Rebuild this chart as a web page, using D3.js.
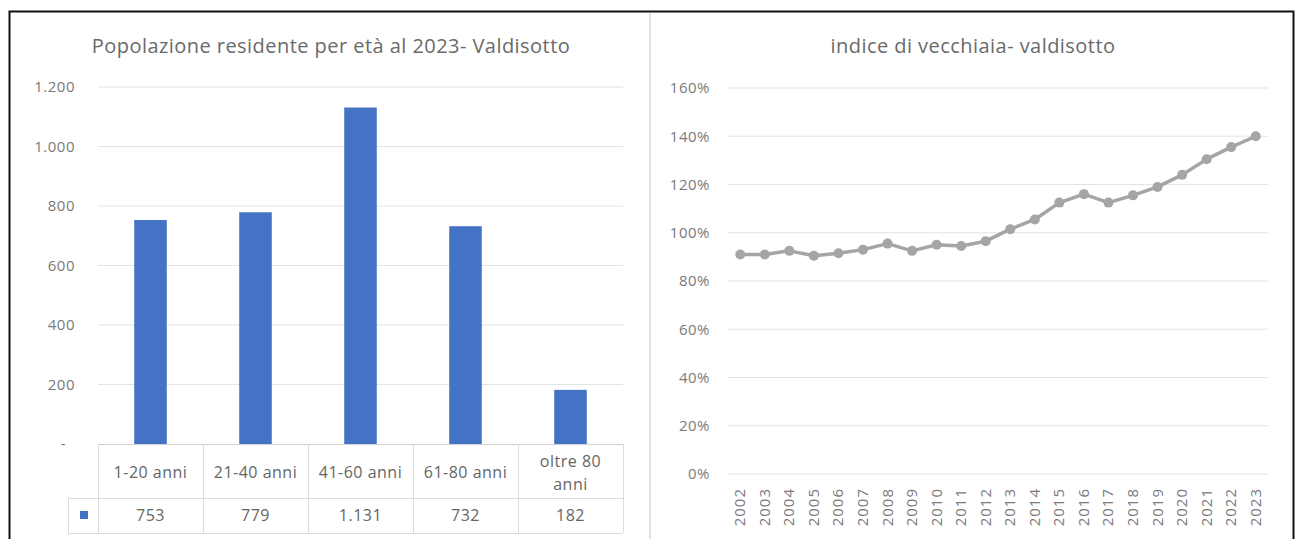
<!DOCTYPE html>
<html lang="it">
<head>
  <meta charset="UTF-8">
  <title>Valdisotto - popolazione e indice di vecchiaia</title>
  <script src="https://d3js.org/d3.v7.min.js"></script>
  <style>
    body { margin: 0; background: #fff; font-family: "Open Sans", sans-serif; }
    .title { fill: #6a6a6a; font-size: 20px; letter-spacing: 0.45px; }
    .tick-label { fill: #7a7a7a; font-size: 15px; letter-spacing: 0.5px; }
    .grid { stroke: #e3e3e3; stroke-width: 1px; }
    .table-line { stroke: #dcdcdc; stroke-width: 1px; }
    .table-text { fill: #666; font-size: 16px; letter-spacing: 0.5px; }
  </style>
</head>
<body>
  <svg width="1297" height="539"></svg>

  <script>
    // population by age class (2023)
    const ageClasses = ["1-20 anni", "21-40 anni", "41-60 anni", "61-80 anni", "oltre 80 anni"];
    const residents = [753, 779, 1131, 732, 182];
    const popTicks = [0, 200, 400, 600, 800, 1000, 1200];

    // old-age index
    const years = ["2002", "2003", "2004", "2005", "2006", "2007", "2008", "2009", "2010", "2011", "2012",
                   "2013", "2014", "2015", "2016", "2017", "2018", "2019", "2020", "2021", "2022", "2023"];
    const oldAgeIndex = [0.91, 0.91, 0.925, 0.905, 0.915, 0.93, 0.955, 0.925, 0.95, 0.945, 0.965,
                         1.015, 1.055, 1.125, 1.16, 1.125, 1.155, 1.19, 1.24, 1.305, 1.355, 1.40];
    const indexTicks = [0, 0.2, 0.4, 0.6, 0.8, 1.0, 1.2, 1.4, 1.6];

    const svg = d3.select("svg");
    const itFmt = d3.formatLocale({ decimal: ",", thousands: ".", grouping: [3], currency: ["€", ""] }).format(",.0f");

    // frame
    svg.append("rect")
      .attr("x", 9.5).attr("y", 11.5)
      .attr("width", 1284).attr("height", 560)
      .attr("fill", "none").attr("stroke", "#111").attr("stroke-width", 2);
    svg.append("line")
      .attr("x1", 650).attr("x2", 650).attr("y1", 13).attr("y2", 539)
      .attr("stroke", "#e2e2e2").attr("stroke-width", 2);

    // ---------- left chart: bars + data table ----------
    const left = svg.append("g");
    const x = d3.scaleBand().domain(ageClasses).range([98, 623]).paddingInner(0.69).paddingOuter(0.345);
    const y = d3.scaleLinear().domain([0, 1200]).range([444, 87]);
    const blue = "#4472c4";

    left.append("text").attr("class", "title")
      .attr("x", 331).attr("y", 53).attr("text-anchor", "middle")
      .text("Popolazione residente per età al 2023- Valdisotto");

    left.selectAll(".grid")
      .data(popTicks.filter(d => d > 0))
      .enter().append("line")
      .attr("class", "grid")
      .attr("x1", 98).attr("x2", 623)
      .attr("y1", d => y(d)).attr("y2", d => y(d));

    left.selectAll(".ytick")
      .data(popTicks)
      .enter().append("text")
      .attr("class", "tick-label")
      .attr("x", d => d === 0 ? 66 : 75)
      .attr("y", d => y(d))
      .attr("dy", "0.35em")
      .attr("text-anchor", "end")
      .text(d => d === 0 ? "-" : itFmt(d));

    left.selectAll(".bar")
      .data(residents)
      .enter().append("rect")
      .attr("x", (d, i) => x(ageClasses[i]))
      .attr("y", d => y(d))
      .attr("width", x.bandwidth())
      .attr("height", d => y(0) - y(d))
      .attr("fill", blue);

    // data table under the axis
    const step = x.step();
    const colEdges = d3.range(ageClasses.length + 1).map(i => 98 + i * step);
    left.append("line").attr("x1", 98).attr("x2", 623).attr("y1", 444.5).attr("y2", 444.5)
      .attr("stroke", "#d0d0d0");
    left.selectAll(".vcol")
      .data(colEdges)
      .enter().append("line").attr("class", "table-line")
      .attr("x1", d => d + 0.5).attr("x2", d => d + 0.5)
      .attr("y1", 444).attr("y2", 533);
    [498.5, 533.5].forEach(yy => {
      left.append("line").attr("class", "table-line")
        .attr("x1", 68).attr("x2", 623).attr("y1", yy).attr("y2", yy);
    });
    left.append("line").attr("class", "table-line")
      .attr("x1", 68.5).attr("x2", 68.5).attr("y1", 498).attr("y2", 533);

    left.selectAll(".cat")
      .data(ageClasses)
      .enter().append("text")
      .attr("class", "table-text")
      .attr("text-anchor", "middle")
      .each(function(d) {
        const cx = x(d) + x.bandwidth() / 2;
        const t = d3.select(this);
        if (d === "oltre 80 anni") {
          t.append("tspan").attr("x", cx).attr("y", 467).text("oltre 80");
          t.append("tspan").attr("x", cx).attr("y", 490).text("anni");
        } else {
          t.attr("x", cx).attr("y", 478).text(d);
        }
      });

    left.selectAll(".val")
      .data(residents)
      .enter().append("text")
      .attr("class", "table-text")
      .attr("text-anchor", "middle")
      .attr("x", (d, i) => x(ageClasses[i]) + x.bandwidth() / 2)
      .attr("y", 521)
      .text(d => itFmt(d));

    left.append("rect").attr("x", 80).attr("y", 511).attr("width", 8).attr("height", 8).attr("fill", blue);

    // ---------- right chart: line ----------
    const right = svg.append("g");
    const xr = d3.scaleBand().domain(years).range([728, 1268]);
    const yr = d3.scaleLinear().domain([0, 1.6]).range([474, 88]);
    const grey = "#a5a5a5";
    const pct = d3.format(".0%");

    right.append("text").attr("class", "title")
      .attr("x", 973).attr("y", 53).attr("text-anchor", "middle")
      .text("indice di vecchiaia- valdisotto");

    right.selectAll(".grid")
      .data(indexTicks)
      .enter().append("line")
      .attr("class", "grid")
      .attr("x1", 728).attr("x2", 1268)
      .attr("y1", d => yr(d)).attr("y2", d => yr(d));

    right.selectAll(".ytick")
      .data(indexTicks)
      .enter().append("text")
      .attr("class", "tick-label")
      .attr("x", 710)
      .attr("y", d => yr(d))
      .attr("dy", "0.35em")
      .attr("text-anchor", "end")
      .text(d => pct(d));

    right.selectAll(".xtick")
      .data(years)
      .enter().append("text")
      .attr("class", "tick-label")
      .attr("text-anchor", "end")
      .attr("transform", d => `translate(${xr(d) + xr.bandwidth() / 2 + 5},488) rotate(-90)`)
      .style("letter-spacing", "1px")
      .text(d => d);

    const line = d3.line()
      .x((d, i) => xr(years[i]) + xr.bandwidth() / 2)
      .y(d => yr(d));

    right.append("path")
      .datum(oldAgeIndex)
      .attr("d", line)
      .attr("fill", "none")
      .attr("stroke", grey)
      .attr("stroke-width", 3.5)
      .attr("stroke-linejoin", "round");

    right.selectAll(".dot")
      .data(oldAgeIndex)
      .enter().append("circle")
      .attr("cx", (d, i) => xr(years[i]) + xr.bandwidth() / 2)
      .attr("cy", d => yr(d))
      .attr("r", 5)
      .attr("fill", grey);
  </script>
</body>
</html>
